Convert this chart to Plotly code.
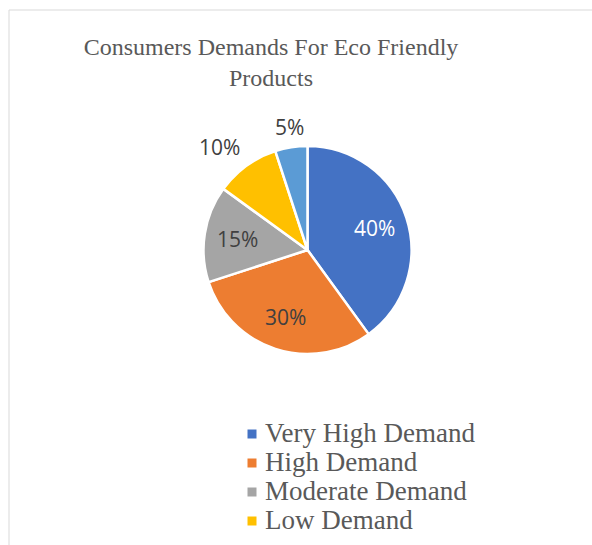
import numpy as np
import plotly.graph_objects as go

# Survey shares of consumer demand for eco-friendly products
labels = ["Very High Demand", "High Demand", "Moderate Demand", "Low Demand", "Very Low Demand"]
values = [40, 30, 15, 10, 5]
colors = ["#4472C4", "#ED7D31", "#A5A5A5", "#FFC000", "#5B9BD5"]
text_colors = ["#FFFFFF", "#404040", "#404040", "#404040", "#404040"]
label_outside = [False, False, False, True, True]

W, H = 592, 545

# Pie geometry in pixels (top-left origin)
cx, cy, r = 307.5, 250.0, 104.0

fig = go.Figure()

fig.add_trace(go.Pie(
    labels=labels,
    values=values,
    sort=False,
    direction="clockwise",
    rotation=0,
    marker=dict(colors=colors, line=dict(color="#FFFFFF", width=2.5)),
    textinfo="none",
    showlegend=False,
    hoverinfo="label+percent",
    domain=dict(x=[(cx - r) / W, (cx + r) / W], y=[1 - (cy + r) / H, 1 - (cy - r) / H]),
))

# Data labels along each slice's mid-angle (clockwise from 12 o'clock).
# Outside labels hang off the ring from the box anchor nearest the pie
# (a corner or an edge midpoint, chosen by compass octant).
vals = np.array(values, dtype=float)
shares = vals / vals.sum()
mids = (np.cumsum(shares) - shares / 2) * 2 * np.pi
label_font = 21
annotations = []
for share, ang, col, outside in zip(shares, mids, text_colors, label_outside):
    txt = f"{share * 100:.0f}%"
    dx, dy = np.sin(ang), -np.cos(ang)
    if outside:
        half_w = 0.5 * label_font * (0.572 * (len(txt) - 1) + 0.838)
        half_h = 0.5 * label_font
        octant = int(np.round(ang / (np.pi / 4))) % 8
        oa = octant * np.pi / 4
        sx, sy = np.round(np.sin(oa)), np.round(-np.cos(oa))
        ring = r + 10
        px, py = cx + dx * ring + sx * half_w, cy + dy * ring + sy * half_h
    else:
        dist = 0.68 * r
        px, py = cx + dx * dist, cy + dy * dist
    annotations.append(dict(
        x=px, y=py, xref="x", yref="y",
        text=txt, showarrow=False, xanchor="center", yanchor="middle",
        font=dict(family="Open Sans", size=label_font, color=col),
    ))

# Legend rows on a pixel-scaled overlay axis; only rows that fit inside the frame are drawn
leg_x = 252
leg_text_x = 265
leg_y0 = 435
leg_step = 29
frame_bottom = H - 8
rows = [i for i in range(len(labels)) if leg_y0 + i * leg_step + 13 <= frame_bottom]
leg_y = [leg_y0 + i * leg_step for i in rows]
fig.add_trace(go.Scatter(
    x=[leg_x] * len(rows), y=[y - 1 for y in leg_y], mode="markers",
    marker=dict(symbol="square", size=9, color=[colors[i] for i in rows], line=dict(width=0)),
    cliponaxis=True, showlegend=False, hoverinfo="skip",
))
fig.add_trace(go.Scatter(
    x=[leg_text_x] * len(rows), y=leg_y, mode="text",
    text=[labels[i] for i in rows], textposition="middle right",
    textfont=dict(family="Liberation Serif", size=27, color="#595959"),
    cliponaxis=False, showlegend=False, hoverinfo="skip",
))

fig.update_layout(
    width=W,
    height=H,
    margin=dict(l=0, r=0, t=0, b=0),
    paper_bgcolor="#FFFFFF",
    plot_bgcolor="rgba(0,0,0,0)",
    title=dict(
        text="Consumers Demands For Eco Friendly<br>Products",
        font=dict(family="Liberation Serif", size=24, color="#595959"),
        x=271 / W,
        xanchor="center",
        y=1 - 55 / H,
        yanchor="middle",
    ),
    xaxis=dict(range=[0, W], domain=[0, 1], visible=False, fixedrange=True),
    yaxis=dict(range=[H, 0], domain=[0, 1], visible=False, fixedrange=True),
    annotations=annotations,
    shapes=[
        dict(type="line", xref="paper", yref="paper", x0=9 / W, x1=1, y0=1 - 10 / H, y1=1 - 10 / H,
             line=dict(color="#D9D9D9", width=1)),
        dict(type="line", xref="paper", yref="paper", x0=9 / W, x1=9 / W, y0=0, y1=1 - 10 / H,
             line=dict(color="#D9D9D9", width=1)),
    ],
)

fig.write_html("out.html")
